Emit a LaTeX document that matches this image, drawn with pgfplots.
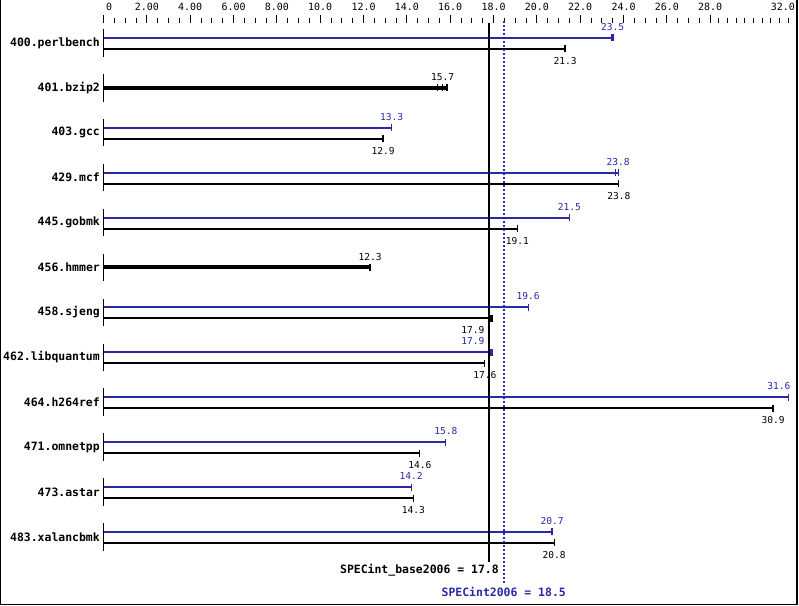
\documentclass[border=0pt]{standalone}
\usepackage{fontspec}
\setmonofont{DejaVu Sans Mono}
\usepackage{pgfplots}
\pgfplotsset{compat=1.18}
\definecolor{specblue}{RGB}{40,40,168}

\pgfplotsset{
  bar/.style={line width=#1, mark=|, mark indices={2}, mark size=3.5bp,
    mark options={solid, line width=1.2bp}},
  peak/.style={specblue, bar=2bp},
  base/.style={black, bar=2bp},
  fat end/.style={mark options={solid, line width=2.6bp}},
  runs/.style={only marks, mark=|, mark size=3.5bp, mark options={line width=1.1bp}},
}
\newcommand\valfont{\ttfamily\fontsize{9.6}{11}\selectfont}
\newcommand\pk[2]{\node[text=specblue, font=\valfont, inner sep=0pt] at (axis cs:#1) {#2};}
\newcommand\bs[2]{\node[text=black, font=\valfont, inner sep=0pt] at (axis cs:#1) {#2};}

\begin{document}
\begin{tikzpicture}[x=1bp, y=1bp]
\path[use as bounding box] (0,0) rectangle (799,606);
\draw[line width=1.2bp] (0.6,606) -- (0.6,1.5) -- (797,1.5) -- (797,606);
\begin{axis}[
    at={(103.5bp,583bp)}, anchor=north west,
    scale only axis, width=693.4bp, height=577bp,
    xmin=0, xmax=32, ymin=-12.405, ymax=0.445,
    axis x line=top, axis y line=left,
    axis line style={draw=none, -},
    clip=false,
    tick align=outside,
    major tick length=8bp, minor tick length=5bp,
    x tick style={black, line width=1bp},
    xtick={0,2,...,28,32},
    minor xtick={0,0.5,...,28,28.4,28.8,...,31.7},
    xticklabels={\makebox[0pt][l]{\hspace{2.5bp}0},2.00,4.00,6.00,8.00,10.0,12.0,14.0,16.0,18.0,20.0,22.0,24.0,26.0,28.0,\makebox[0pt][r]{32.0\hspace{2bp}}},
    xticklabel style={font=\ttfamily\fontsize{10}{12}\selectfont, anchor=south, inner sep=0pt, yshift=4bp},
    ytick={0,-1,...,-11},
    yticklabels={400.perlbench,401.bzip2,403.gcc,429.mcf,445.gobmk,456.hmmer,458.sjeng,462.libquantum,464.h264ref,471.omnetpp,473.astar,483.xalancbmk},
    y tick style={draw=none},
    yticklabel style={font=\ttfamily\bfseries\fontsize{11.5}{13}\selectfont, anchor=east, inner sep=0pt, xshift=4.5bp},
  ]

  % benchmark separators on the zero line
  \addplot[draw=none, mark=none, forget plot,
    error bars/.cd, y dir=both, y explicit,
    error mark=none, error bar style={black, line width=1.3bp}]
    coordinates {
      (0,0) +- (0,0.305)   (0,-1) +- (0,0.305)  (0,-2) +- (0,0.305)
      (0,-3) +- (0,0.305)  (0,-4) +- (0,0.305)  (0,-5) +- (0,0.305)
      (0,-6) +- (0,0.305)  (0,-7) +- (0,0.305)  (0,-8) +- (0,0.305)
      (0,-9) +- (0,0.305)  (0,-10) +- (0,0.305) (0,-11) +- (0,0.305)
    };

  % 400.perlbench
  \addplot[peak, fat end] coordinates {(0,0.111) (23.5,0.111)};
  \addplot[base] coordinates {(0,-0.134) (21.3,-0.134)};
  % 401.bzip2 (base only)
  \addplot[black, line width=4bp, mark=none] coordinates {(0,-1) (15.85,-1)};
  \addplot[black, runs] coordinates {(15.42,-1) (15.65,-1) (15.85,-1)};
  % 403.gcc
  \addplot[peak] coordinates {(0,-1.889) (13.3,-1.889)};
  \addplot[base] coordinates {(0,-2.134) (12.9,-2.134)};
  % 429.mcf
  \addplot[peak] coordinates {(0,-2.889) (23.75,-2.889)};
  \addplot[specblue, runs] coordinates {(23.62,-2.889)};
  \addplot[base] coordinates {(0,-3.134) (23.78,-3.134)};
  % 445.gobmk
  \addplot[peak] coordinates {(0,-3.889) (21.5,-3.889)};
  \addplot[base] coordinates {(0,-4.134) (19.1,-4.134)};
  % 456.hmmer (base only)
  \addplot[black, line width=4bp, mark=|, mark indices={2}, mark size=3.5bp,
    mark options={line width=1.2bp}] coordinates {(0,-5) (12.3,-5)};
  % 458.sjeng
  \addplot[peak] coordinates {(0,-5.889) (19.6,-5.889)};
  \addplot[base, fat end] coordinates {(0,-6.134) (17.9,-6.134)};
  % 462.libquantum
  \addplot[peak, fat end] coordinates {(0,-6.889) (17.9,-6.889)};
  \addplot[base] coordinates {(0,-7.134) (17.6,-7.134)};
  % 464.h264ref
  \addplot[peak] coordinates {(0,-7.889) (31.6,-7.889)};
  \addplot[base] coordinates {(0,-8.134) (30.9,-8.134)};
  % 471.omnetpp
  \addplot[peak] coordinates {(0,-8.889) (15.8,-8.889)};
  \addplot[base] coordinates {(0,-9.134) (14.6,-9.134)};
  % 473.astar
  \addplot[peak] coordinates {(0,-9.889) (14.2,-9.889)};
  \addplot[base] coordinates {(0,-10.134) (14.3,-10.134)};
  % 483.xalancbmk
  \addplot[peak, fat end] coordinates {(0,-10.889) (20.7,-10.889)};
  \addplot[base] coordinates {(0,-11.134) (20.8,-11.134)};

  % geometric means
  \addplot[black, line width=2bp] coordinates {(17.8,0.445) (17.8,-11.56)};
  \addplot[specblue, line width=2bp, dash pattern=on 2bp off 2bp] coordinates {(18.5,0.49) (18.5,-12.03)};

  % value labels
  \pk{23.5,0.356}{23.5}       \bs{21.3,-0.401}{21.3}
  \bs{15.65,-0.766}{15.7}
  \pk{13.3,-1.644}{13.3}      \bs{12.9,-2.401}{12.9}
  \pk{23.75,-2.644}{23.8}     \bs{23.78,-3.401}{23.8}
  \pk{21.5,-3.644}{21.5}      \bs{19.1,-4.401}{19.1}
  \bs{12.3,-4.766}{12.3}
  \pk{19.6,-5.644}{19.6}      \bs{17.05,-6.401}{17.9}
  \pk{17.05,-6.644}{17.9}     \bs{17.6,-7.401}{17.6}
  \pk{31.17,-7.644}{31.6}     \bs{30.9,-8.401}{30.9}
  \pk{15.8,-8.644}{15.8}      \bs{14.6,-9.401}{14.6}
  \pk{14.2,-9.644}{14.2}      \bs{14.3,-10.401}{14.3}
  \pk{20.7,-10.644}{20.7}     \bs{20.8,-11.401}{20.8}

  \node[anchor=east, inner sep=0pt, font=\ttfamily\bfseries\fontsize{11.5}{13}\selectfont]
    at (axis cs:18.25,-11.737) {SPECint\_base2006 = 17.8};
  \node[inner sep=0pt, text=specblue, font=\ttfamily\bfseries\fontsize{11.5}{13}\selectfont]
    at (axis cs:18.47,-12.227) {SPECint2006 = 18.5};
\end{axis}
\end{tikzpicture}
\end{document}
